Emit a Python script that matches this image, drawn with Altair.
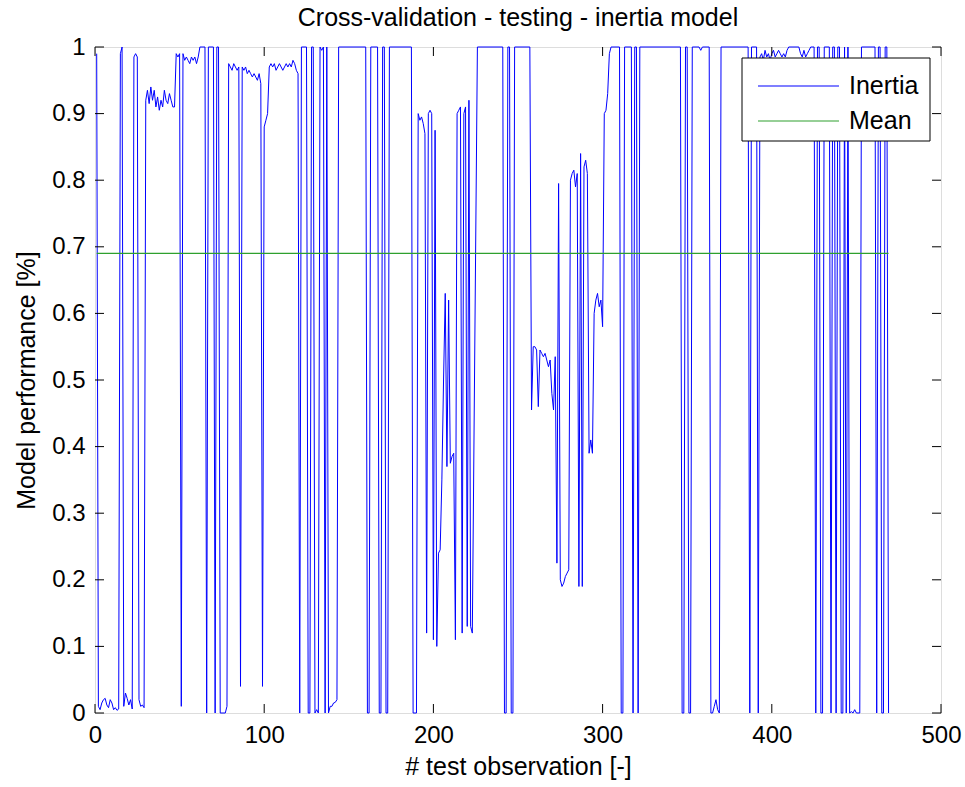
import altair as alt
import pandas as pd

# ---- data ----
obs = [1, 2, 3, 4, 5, 6, 7, 8, 9, 10, 11, 12, 13, 14, 15, 16, 17, 18, 19, 20,
       21, 22, 23, 24, 25, 26, 27, 28, 29, 30, 31, 32, 33, 34, 35, 36, 37, 38, 39, 40,
       41, 42, 43, 44, 45, 46, 47, 48, 49, 50, 51, 52, 53, 54, 55, 56, 57, 58, 59, 60,
       61, 62, 65, 66, 67, 70, 71, 72, 73, 74, 77, 78, 79, 80, 81, 82, 83, 84, 85, 86,
       87, 88, 89, 90, 91, 92, 93, 94, 95, 96, 97, 98, 99, 100, 101, 102, 103, 104, 105, 106,
       107, 108, 109, 110, 111, 112, 113, 114, 115, 116, 117, 118, 119, 120, 121, 122, 125, 126, 127, 128,
       129, 130, 131, 132, 133, 134, 135, 136, 137, 138, 139, 140, 141, 142, 143, 144, 160, 161, 162, 163,
       167, 168, 169, 170, 171, 172, 173, 174, 187, 188, 190, 191, 192, 193, 194, 195, 196, 197, 198, 199,
       200, 201, 202, 203, 204, 205, 206, 207, 208, 209, 210, 211, 212, 213, 214, 215, 216, 217, 218, 219,
       220, 221, 222, 223, 226, 241, 242, 243, 244, 245, 246, 247, 248, 257, 258, 259, 260, 261, 262, 263,
       264, 265, 266, 267, 268, 269, 270, 271, 272, 273, 274, 275, 276, 277, 278, 279, 280, 281, 282, 283,
       284, 285, 286, 287, 288, 289, 290, 291, 292, 293, 294, 295, 296, 297, 298, 299, 300, 301, 302, 303,
       304, 305, 310, 311, 312, 313, 317, 318, 319, 320, 321, 322, 346, 347, 348, 349, 350, 351, 352, 353,
       357, 358, 359, 363, 364, 365, 366, 367, 368, 369, 370, 386, 387, 388, 391, 392, 393, 394, 395, 396,
       397, 398, 399, 400, 401, 402, 403, 404, 405, 406, 407, 408, 409, 410, 416, 417, 418, 419, 420, 421,
       422, 423, 425, 426, 427, 428, 429, 430, 431, 434, 435, 436, 437, 438, 439, 440, 441, 442, 443, 444,
       445, 446, 447, 448, 449, 450, 452, 453, 461, 462, 463, 464, 465, 466, 467, 468, 469]
perf = [0.99, 0.01, 0.005, 0.015, 0.02, 0.022, 0.012, 0.008, 0.02, 0.015, 0.005, 0.008, 0.004, 0.006, 0.99, 1.0, 0.01, 0.03, 0.022, 0.012,
        0.02, 0.006, 0.985, 0.99, 0.985, 0.02, 0.01, 0.012, 0.008, 0.92, 0.935, 0.915, 0.94, 0.92, 0.935, 0.91, 0.925, 0.905, 0.92, 0.91,
        0.935, 0.92, 0.915, 0.93, 0.92, 0.91, 0.91, 0.99, 0.985, 0.99, 0.01, 0.99, 0.98, 0.985, 0.98, 0.975, 0.985, 0.98, 0.985, 0.975,
        0.985, 1.0, 1.0, 0.0, 1.0, 1.0, 0.0, 1.0, 1.0, 0.0, 0.0, 0.01, 0.975, 0.97, 0.965, 0.975, 0.97, 0.965, 0.97, 0.04,
        0.97, 0.965, 0.97, 0.96, 0.965, 0.96, 0.955, 0.96, 0.955, 0.95, 0.96, 0.945, 0.04, 0.88, 0.89, 0.9, 0.97, 0.975, 0.97, 0.975,
        0.965, 0.97, 0.975, 0.97, 0.965, 0.97, 0.975, 0.97, 0.975, 0.97, 0.98, 0.975, 0.965, 0.96, 0.0, 1.0, 1.0, 0.0, 0.0, 1.0,
        1.0, 0.0, 0.005, 0.0, 1.0, 0.995, 1.0, 0.0, 1.0, 0.0, 0.01, 0.01, 0.015, 0.016, 0.02, 1.0, 1.0, 0.0, 0.0, 1.0,
        1.0, 0.0, 0.0, 1.0, 1.0, 0.0, 0.0, 1.0, 1.0, 0.0, 0.0, 0.9, 0.89, 0.895, 0.885, 0.87, 0.12, 0.9, 0.905, 0.9,
        0.11, 0.875, 0.1, 0.24, 0.245, 0.35, 0.5, 0.63, 0.37, 0.62, 0.375, 0.385, 0.39, 0.11, 0.9, 0.905, 0.91, 0.12, 0.9, 0.91,
        0.13, 0.92, 0.13, 0.12, 1.0, 1.0, 0.0, 0.0, 1.0, 1.0, 0.0, 0.0, 1.0, 1.0, 0.455, 0.55, 0.55, 0.545, 0.46, 0.545,
        0.54, 0.535, 0.54, 0.53, 0.52, 0.53, 0.48, 0.455, 0.535, 0.225, 0.795, 0.2, 0.19, 0.195, 0.205, 0.21, 0.215, 0.8, 0.81, 0.815,
        0.79, 0.81, 0.19, 0.84, 0.19, 0.82, 0.83, 0.81, 0.39, 0.41, 0.39, 0.6, 0.62, 0.63, 0.61, 0.62, 0.58, 0.9, 0.905, 0.93,
        0.99, 1.0, 1.0, 0.0, 0.0, 1.0, 1.0, 0.0, 1.0, 1.0, 0.0, 1.0, 1.0, 0.0, 0.0, 1.0, 1.0, 0.0, 0.0, 1.0,
        1.0, 0.995, 1.0, 1.0, 0.0, 0.0, 0.01, 0.02, 0.005, 0.0, 1.0, 1.0, 0.0, 1.0, 1.0, 0.0, 0.985, 0.99, 0.98, 0.995,
        0.985, 0.99, 0.98, 0.99, 0.995, 0.985, 0.99, 0.995, 0.99, 0.985, 0.99, 0.985, 0.995, 1.0, 1.0, 0.99, 0.985, 0.995, 0.985, 0.99,
        0.995, 1.0, 1.0, 0.0, 1.0, 1.0, 0.0, 0.0, 1.0, 1.0, 0.0, 1.0, 1.0, 0.0, 1.0, 1.0, 0.0, 0.0, 1.0, 0.0,
        1.0, 0.0, 0.002, 0.0, 0.005, 0.0, 0.0, 1.0, 1.0, 0.0, 1.0, 1.0, 0.0, 0.0, 1.0, 1.0, 0.0]

mean_value = 0.69
mean_obs = [1, 469]

x_ticks = [0, 100, 200, 300, 400, 500]
y_ticks = [0, 0.1, 0.2, 0.3, 0.4, 0.5, 0.6, 0.7, 0.8, 0.9, 1]
series_names = ["Inertia", "Mean"]
series_colors = ["#0000ff", "#2ea02e"]

title_text = "Cross-validation - testing - inertia model"
x_title = "# test observation [-]"
y_title = "Model performance [%]"

# ---- layout ----
W, H = 846, 666
FONT = "Liberation Sans"
FS_TICK = 24
FS_TITLE = 25
FS_LEG = 25
TICK = 9

line_df = pd.DataFrame({"obs": obs, "perf": perf})
mean_df = pd.DataFrame({"obs": mean_obs, "perf": [mean_value] * len(mean_obs)})
xt_df = pd.DataFrame({"obs": x_ticks})
yt_df = pd.DataFrame({"perf": y_ticks})
one = pd.DataFrame({"k": [0]})

xs = alt.Scale(domain=[0, 500], nice=False, zero=False)
ys = alt.Scale(domain=[0, 1], nice=False, zero=False)

x_axis = alt.Axis(values=x_ticks, format="d", title=x_title, grid=False, ticks=False,
                  domain=False, labelFont=FONT, labelFontSize=FS_TICK,
                  labelColor="black", labelPadding=10, labelFlush=False, labelOverlap=False,
                  titleFont=FONT, titleFontSize=FS_TITLE, titleFontWeight="normal",
                  titleColor="black", titlePadding=7)
y_axis = alt.Axis(values=y_ticks, format="~g", title=y_title, grid=False, ticks=False,
                  domain=False, labelFont=FONT, labelFontSize=FS_TICK,
                  labelColor="black", labelPadding=10, labelFlush=False, labelOverlap=False,
                  titleFont=FONT, titleFontSize=FS_TITLE, titleFontWeight="normal",
                  titleColor="black", titlePadding=12)

X = alt.X("obs:Q", scale=xs, axis=x_axis)
Y = alt.Y("perf:Q", scale=ys, axis=y_axis)

inertia = alt.Chart(line_df).mark_line(color=series_colors[0], strokeWidth=1).encode(x=X, y=Y)
mean = alt.Chart(mean_df).mark_line(color=series_colors[1], strokeWidth=1.2).encode(x=X, y=Y)

tick_bottom = alt.Chart(xt_df).mark_rule(color="black", strokeWidth=1).encode(
    x=X, y=alt.value(H), y2=alt.value(H - TICK))
tick_top = alt.Chart(xt_df).mark_rule(color="black", strokeWidth=1).encode(
    x=X, y=alt.value(0), y2=alt.value(TICK))
tick_left = alt.Chart(yt_df).mark_rule(color="black", strokeWidth=1).encode(
    y=Y, x=alt.value(0), x2=alt.value(TICK))
tick_right = alt.Chart(yt_df).mark_rule(color="black", strokeWidth=1).encode(
    y=Y, x=alt.value(W), x2=alt.value(W - TICK))

# ---- legend (drawn by hand, MATLAB style) ----
LX0, LX1, LY0, LY1 = 647, 835, 11, 94
row_y = [39, 74]
legend_box = alt.Chart(one).mark_rect(fill="white", stroke="black", strokeWidth=1).encode(
    x=alt.value(LX0), x2=alt.value(LX1), y=alt.value(LY0), y2=alt.value(LY1))
legend_layers = [legend_box]
for name, col, ry in zip(series_names, series_colors, row_y):
    legend_layers.append(
        alt.Chart(one).mark_rule(color=col, strokeWidth=1.2).encode(
            x=alt.value(663), x2=alt.value(744), y=alt.value(ry)))
    legend_layers.append(
        alt.Chart(pd.DataFrame({"label": [name]})).mark_text(
            align="left", baseline="middle", font=FONT, fontSize=FS_LEG, color="black").encode(
            text="label:N", x=alt.value(754), y=alt.value(ry)))

chart = alt.layer(
    inertia, mean, tick_bottom, tick_top, tick_left, tick_right, *legend_layers
).properties(
    width=W, height=H,
    padding={"left": 95, "top": 47, "right": 24, "bottom": 74},
    autosize=alt.AutoSizeParams(type="none"),
    title=alt.TitleParams(title_text, font=FONT, fontSize=FS_TITLE, fontWeight="normal",
                          color="black", anchor="middle", offset=4),
).configure_view(stroke="black", strokeWidth=1).configure(background="white")

chart.save("out.html", embed_options={"renderer": "svg", "actions": False})
